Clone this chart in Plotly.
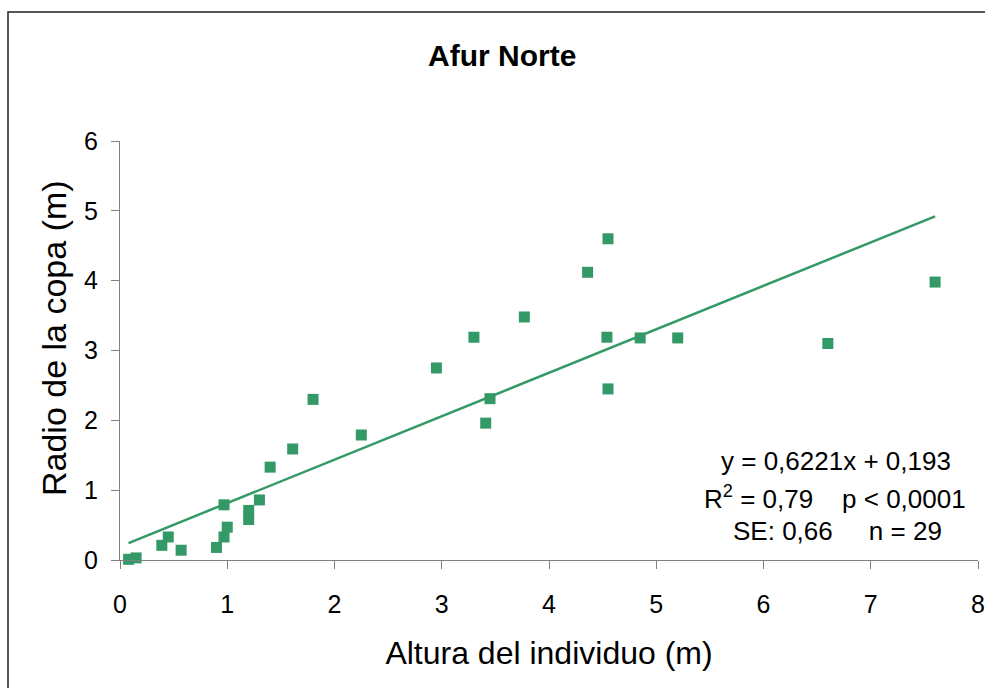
import plotly.graph_objects as go

# Tree height (m) and crown radius (m) for the Afur Norte site
altura = [0.08, 0.15, 0.39, 0.45, 0.57, 0.90, 0.97, 1.00, 0.97, 1.20,
          1.20, 1.30, 1.40, 1.61, 1.80, 2.25, 2.95, 3.30, 3.45, 3.41,
          3.77, 4.36, 4.55, 4.54, 4.55, 4.85, 5.20, 6.60, 7.60]
radio = [0.01, 0.03, 0.21, 0.33, 0.14, 0.18, 0.33, 0.47, 0.79, 0.71,
         0.58, 0.86, 1.33, 1.59, 2.30, 1.79, 2.75, 3.19, 2.31, 1.96,
         3.48, 4.12, 4.60, 3.19, 2.45, 3.18, 3.18, 3.10, 3.98]

# Linear fit reported for the site
pendiente = 0.6221
intercepto = 0.193

x_ticks = [0, 1, 2, 3, 4, 5, 6, 7, 8]
y_ticks = [0, 1, 2, 3, 4, 5, 6]

verde = "#339966"
fuente = "Liberation Sans, Arial, sans-serif"

x_fit = [min(altura), max(altura)]
y_fit = [pendiente * v + intercepto for v in x_fit]

fig = go.Figure()
fig.add_trace(go.Scatter(
    x=altura, y=radio, mode="markers",
    marker=dict(symbol="square", size=11, color=verde, line=dict(width=0)),
    showlegend=False, cliponaxis=False,
))
fig.add_trace(go.Scatter(
    x=x_fit, y=y_fit, mode="lines",
    line=dict(color=verde, width=2.5),
    showlegend=False, cliponaxis=False,
))

eje = dict(
    showgrid=False, zeroline=False, showline=True, automargin=False,
    linecolor="#808080", linewidth=1,
    ticks="outside", ticklen=8, tickcolor="#808080", tickwidth=1,
    tickfont=dict(family=fuente, size=25, color="#000"),
)

fig.update_xaxes(range=[0, 8], tickvals=x_ticks, ticklabelstandoff=14,
                 title=dict(text="Altura del individuo (m)", standoff=24,
                            font=dict(family=fuente, size=32, color="#000")),
                 **eje)
fig.update_yaxes(range=[0, 6], tickvals=y_ticks, ticklabelstandoff=8, **eje)

anotaciones = [
    dict(text="<b>Afur Norte</b>", x=0.445, y=1.205, size=30, angle=0),
    dict(text="Radio de la copa (m)", x=(54 - 120) / 858, y=(560 - 338) / 419, size=34, angle=-90),
    dict(text="y = 0,6221x + 0,193", x=(836 - 120) / 858, y=(560 - 461) / 419, size=26, angle=0),
    dict(text="R<sup>2</sup> = 0,79    p < 0,0001", x=(835 - 120) / 858, y=(560 - 497) / 419, size=26, angle=0),
    dict(text="SE: 0,66     n = 29", x=(837 - 120) / 858, y=(560 - 531) / 419, size=26, angle=0),
]
for a in anotaciones:
    fig.add_annotation(
        text=a["text"], x=a["x"], y=a["y"], xref="paper", yref="paper",
        xanchor="center", yanchor="middle", showarrow=False, textangle=a["angle"],
        font=dict(family=fuente, size=a["size"], color="#000"),
    )

# Chart frame
fig.add_shape(type="rect", xref="paper", yref="paper",
              x0=(8 - 120) / 858, x1=(1010 - 120) / 858,
              y0=(560 - 720) / 419, y1=(560 - 12) / 419,
              line=dict(color="#222", width=1.5), layer="below")

fig.update_layout(
    width=985, height=688,
    margin=dict(l=120, r=7, t=141, b=128),
    paper_bgcolor="white", plot_bgcolor="white",
    font=dict(family=fuente),
)

fig.write_html("out.html")
